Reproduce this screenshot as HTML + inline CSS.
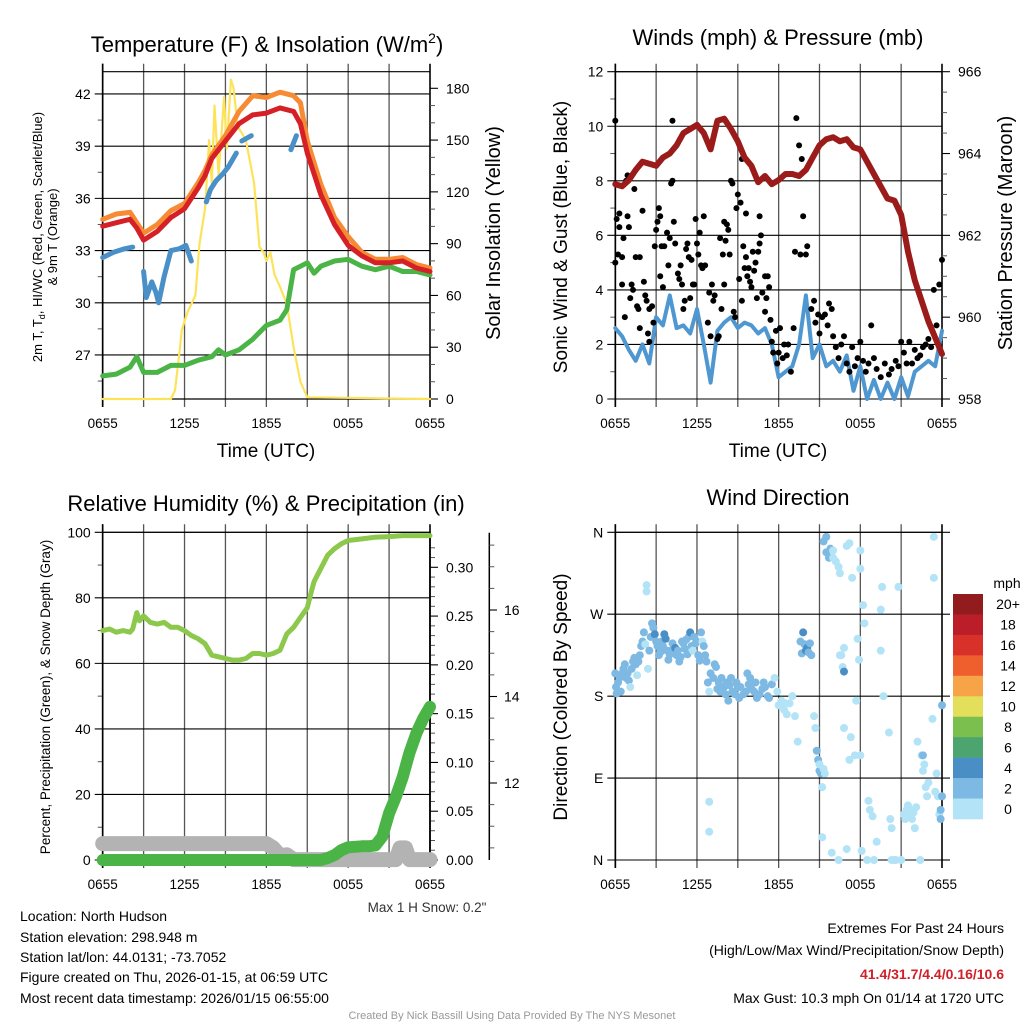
<!DOCTYPE html>
<html><head><meta charset="utf-8">
<style>
html,body{margin:0;padding:0;background:#fff;}
svg{display:block;font-family:"Liberation Sans",Arial,sans-serif;}
</style></head>
<body>
<svg id="fig" width="1024" height="1024" viewBox="0 0 1024 1024" xmlns="http://www.w3.org/2000/svg">
<rect x="0" y="0" width="1024" height="1024" fill="#fff"/>
<text x="267" y="52" font-size="22" text-anchor="middle">Temperature (F) &amp; Insolation (W/m<tspan font-size="14" dy="-9">2</tspan><tspan dy="9">)</tspan></text>
<text x="778" y="45" font-size="22" text-anchor="middle">Winds (mph) &amp; Pressure (mb)</text>
<text x="266" y="511" font-size="22" text-anchor="middle">Relative Humidity (%) &amp; Precipitation (in)</text>
<text x="778" y="505" font-size="22" text-anchor="middle">Wind Direction</text>

<text x="266" y="457" font-size="19" text-anchor="middle">Time (UTC)</text>
<text x="778" y="457" font-size="19" text-anchor="middle">Time (UTC)</text>

<text transform="translate(42,237) rotate(-90)" font-size="13" text-anchor="middle">2m T, T<tspan font-size="9" dy="3">d</tspan><tspan dy="-3">, HI/WC (Red, Green, Scarlet/Blue)</tspan></text>
<text transform="translate(57,237) rotate(-90)" font-size="13" text-anchor="middle">&amp; 9m T (Orange)</text>
<text transform="translate(500,233) rotate(-90)" font-size="20" text-anchor="middle">Solar Insolation (Yellow)</text>
<text transform="translate(567,237) rotate(-90)" font-size="19" text-anchor="middle">Sonic Wind &amp; Gust (Blue, Black)</text>
<text transform="translate(1012,233) rotate(-90)" font-size="20" text-anchor="middle">Station Pressure (Maroon)</text>
<text transform="translate(50,697) rotate(-90)" font-size="13.5" text-anchor="middle">Percent, Precipitation (Green), &amp; Snow Depth (Gray)</text>
<text transform="translate(567,697) rotate(-90)" font-size="19" text-anchor="middle">Direction (Colored By Speed)</text>

<text x="427" y="912" font-size="13.5" text-anchor="middle" fill="#333">Max 1 H Snow: 0.2"</text>

<g font-size="14">
<text x="20" y="921">Location: North Hudson</text>
<text x="20" y="942">Station elevation: 298.948 m</text>
<text x="20" y="962">Station lat/lon: 44.0131; -73.7052</text>
<text x="20" y="982">Figure created on Thu, 2026-01-15, at 06:59 UTC</text>
<text x="20" y="1003">Most recent data timestamp: 2026/01/15 06:55:00</text>
</g>
<g font-size="14" text-anchor="end">
<text x="1004" y="933">Extremes For Past 24 Hours</text>
<text x="1004" y="955">(High/Low/Max Wind/Precipitation/Snow Depth)</text>
<text x="1004" y="979" fill="#d0202a" font-weight="bold">41.4/31.7/4.4/0.16/10.6</text>
<text x="1004" y="1003">Max Gust: 10.3 mph On 01/14 at 1720 UTC</text>
</g>
<text x="512" y="1019" font-size="11" text-anchor="middle" fill="#999">Created By Nick Bassill Using Data Provided By The NYS Mesonet</text>
</svg>
<script>
// ---------- data ----------
const xTickLabels = ["0655","1255","1855","0055","0655"];
const tempTimes = [0,1,2,2.5,3,4,5,6,7,7.5,8,9,10,11,12,13,14,14.5,15,16,17,18,19,20,21,22,23,24];
const temp2m = [34.4,34.6,34.8,34.3,33.6,34.1,34.9,35.4,36.6,37.3,38.3,39.3,40.3,40.8,40.9,41.2,41.0,40.3,38.6,36.2,34.5,33.3,32.7,32.3,32.3,32.4,32.0,31.8];
const temp9m = [34.8,35.1,35.2,34.6,34.0,34.5,35.3,35.7,36.9,37.6,38.5,39.6,41.0,41.9,41.8,42.1,41.9,41.5,39.3,36.8,34.9,33.8,32.9,32.5,32.5,32.6,32.2,32.0];
const dewTimes = [0,1,2,2.5,3,4,5,6,7,8,8.5,9,10,11,12,13,13.5,14,15,15.5,16,17,18,19,20,21,22,23,24];
const dewVals = [25.8,25.9,26.3,26.9,26.0,26.0,26.4,26.4,26.7,26.9,27.3,27.0,27.3,27.9,28.7,29.0,29.6,31.9,32.3,31.7,32.1,32.4,32.5,32.1,31.9,32.1,31.8,31.8,31.6];
const wcTimes = [0,0.8,1.6,2.2,null,3.0,3.2,3.6,3.9,4.1,4.5,5.0,5.6,6.1,6.5,null,7.6,7.9,8.3,8.8,9.2,9.8,null,10.2,10.9,null,13.8,14.2];
const wcVals = [32.6,32.9,33.1,33.2,null,31.8,30.3,31.2,30.6,30.0,31.5,33.0,33.1,33.3,32.4,null,35.8,36.5,37.0,37.4,37.8,38.6,null,39.3,39.6,null,38.8,39.6];
const solarTimes = [0,5.0,5.3,5.6,5.8,6.2,6.8,7.1,7.5,7.8,8.0,8.2,8.5,8.9,9.1,9.4,9.6,9.9,10.5,11.1,11.5,11.8,12.0,12.3,12.6,13.0,13.5,14.0,14.5,15.0,24];
const solarVals = [0,0,5,25,40,50,60,90,110,150,125,170,130,175,145,185,180,158,150,125,88,85,80,85,72,65,55,30,10,1,0];

const windTimes = [0,0.5,1,1.5,2,2.5,3,3.5,4,4.5,5,5.5,6,6.5,7,7.5,8,8.5,9,9.5,10,10.5,11,11.5,12,12.5,13,13.5,14,14.5,15,15.5,16,16.5,17,17.5,18,18.5,19,19.5,20,20.5,21,21.5,22,22.5,23,23.5,24];
const windVals = [2.6,2.3,1.8,1.4,2.0,1.3,3.0,2.7,3.8,2.6,2.7,2.4,3.3,2.0,0.6,2.5,2.8,3.0,2.6,2.8,2.7,2.4,2.6,2.0,0.8,1.0,1.2,2.0,3.8,1.5,2.0,1.2,1.4,1.0,1.6,0.3,1.2,0.0,0.7,0.0,0.6,0.0,0.8,0.1,1.0,1.2,1.4,1.2,2.5];
const presVals = [963.25,963.2,963.35,963.6,963.8,963.75,963.7,963.9,964.0,964.2,964.5,964.6,964.7,964.5,964.1,964.8,964.85,964.6,964.3,963.9,963.7,963.3,963.45,963.25,963.35,963.5,963.5,963.45,963.6,963.9,964.2,964.35,964.4,964.3,964.35,964.15,964.1,963.8,963.5,963.2,962.9,962.85,962.5,961.6,960.9,960.4,959.9,959.5,959.1];
const gustTimes = [0,0,0.1,0.3,0.3,0.2,0.5,0.6,0.5,0.8,0.9,0.9,1.0,0.7,1.1,1.2,1.3,1.4,1.5,1.6,1.7,1.8,1.8,2.0,2.1,2.2,2.3,2.4,2.5,2.5,2.7,2.8,2.9,3.0,3.1,3.2,3.3,3.3,3.4,3.5,3.6,3.8,3.9,4.0,4.1,4.2,4.2,4.3,4.4,4.6,4.7,4.8,4.9,5.0,5.1,5.2,5.3,5.4,5.5,5.6,5.7,5.8,5.9,6.0,6.1,6.2,6.3,6.4,6.5,6.6,6.8,6.9,7.0,7.1,7.2,7.3,7.5,7.6,7.7,7.8,7.9,8.0,8.0,8.1,8.2,8.3,8.4,8.5,8.6,8.7,8.8,8.9,9.0,9.1,9.2,9.3,9.3,9.4,9.5,9.6,9.6,9.7,9.8,9.9,10.0,10.1,10.2,10.3,10.4,10.5,10.6,10.6,10.7,10.8,11.0,11.0,11.1,11.2,11.3,11.4,11.5,11.6,11.8,11.9,12.0,12.1,12.3,12.4,12.6,12.7,12.9,13.1,13.2,13.3,13.5,13.6,13.7,13.8,14.0,14.1,14.4,14.6,14.7,14.9,15.0,15.2,15.4,15.6,15.7,15.9,16.0,16.2,16.4,16.6,16.8,17.0,17.2,17.4,17.6,17.8,18.0,18.2,18.4,18.6,18.8,19.0,19.2,19.5,19.8,20.1,20.3,20.6,20.8,21.0,21.2,21.4,21.6,21.8,22.0,22.2,22.4,22.6,22.8,23.0,23.2,23.4,23.6,23.8,24.0];
const gustVals = [5.0,10.2,6.6,6.3,6.8,5.3,5.2,5.9,4.2,8.0,8.2,6.7,6.3,3.0,3.7,4.2,4.0,7.7,5.2,3.4,3.3,2.6,5.2,6.9,4.3,3.8,3.6,2.4,2.1,3.3,3.4,2.8,5.6,6.2,6.5,7.0,6.7,4.5,5.6,4.1,5.6,6.1,4.9,5.9,7.9,10.2,8.0,6.5,5.7,4.6,4.4,4.9,4.2,3.3,3.6,5.5,5.7,5.2,3.7,5.1,4.2,4.2,6.6,5.7,5.3,6.1,4.9,4.8,6.7,4.9,2.8,3.9,2.3,4.2,3.6,3.8,2.2,2.3,5.9,3.3,5.3,6.5,4.2,5.8,6.4,6.2,5.3,8.0,7.9,3.2,3.0,7.0,7.5,4.4,7.2,3.6,8.8,5.6,4.8,5.2,6.8,4.5,4.8,4.3,4.1,5.4,4.7,5.0,3.7,5.4,5.7,6.7,6.0,3.9,3.2,4.5,3.7,4.5,4.1,2.9,2.1,1.7,2.5,1.3,1.7,2.6,1.5,2.0,1.6,2.0,1.0,2.6,5.4,10.3,9.3,5.3,8.8,6.7,5.3,5.6,3.3,3.6,2.8,3.1,2.4,3.0,3.1,2.7,3.5,3.3,2.3,1.9,1.5,2.0,2.3,1.3,1.0,1.9,1.2,1.5,2.1,1.4,1.0,1.3,2.7,1.5,1.1,0.8,1.3,0.9,1.1,1.4,1.2,2.1,1.7,1.3,2.1,1.3,1.8,1.5,1.6,1.9,2.0,2.2,1.9,4.0,2.7,4.2,5.1];

const rhTimes = [0,0.5,1,1.5,2,2.2,2.5,2.7,3,3.5,4,4.5,5,5.5,6,6.5,7,7.5,8,8.5,9,9.5,10,10.5,11,11.5,12,12.5,13,13.5,14,14.5,15,15.3,15.5,16,16.5,17,17.5,18,19,20,21,22,23,24];
const rhVals = [70,70.5,69.5,70,69.5,70.5,75.5,73,74.5,72.5,72,72.5,71,71,70,68.5,67.5,66,62.5,62,61.5,61,61,61.5,63,63,62.5,63,64,69,71,74,77,82,85,89,93,95,96.5,97.5,98,98.5,98.7,99,99,99];
const precipTimes = [0,16,16.5,17,17.5,18,19,19.5,20,20.5,21,21.5,22,22.5,23,23.5,24];
const precipVals = [0,0,0.002,0.005,0.01,0.013,0.014,0.014,0.015,0.024,0.048,0.065,0.085,0.11,0.13,0.145,0.157];
const snowTimes = [0,12,12.5,13,13.5,14,21.5,21.8,22.2,22.5,24];
const snowVals = [10.6,10.6,10.5,10.32,10.34,10.23,10.23,10.5,10.5,10.23,10.23];

const dirTimes = [0,0.05,0.1,0.2,0.3,0.4,0.5,0.6,0.7,0.8,0.9,1.0,1.1,1.2,1.3,1.4,1.5,1.6,1.7,1.8,1.9,2.0,2.1,2.2,2.3,2.3,2.4,2.5,2.6,2.7,2.8,2.9,3.0,3.1,3.2,3.3,3.4,3.5,3.6,3.7,3.8,3.9,4.0,4.1,4.2,4.3,4.4,4.5,4.6,4.7,4.8,4.9,5.0,5.1,5.2,5.3,5.4,5.5,5.6,5.7,5.8,5.9,6.0,6.1,6.2,6.3,6.4,6.5,6.6,6.7,6.8,6.9,6.9,6.9,7.0,7.2,7.3,7.4,7.5,7.6,7.7,7.8,8.0,8.1,8.2,8.3,8.4,8.5,8.6,8.8,8.9,9.0,9.1,9.2,9.4,9.6,9.7,9.8,9.9,10.0,10.2,10.3,10.4,10.6,10.8,10.9,11.0,11.2,11.3,11.5,11.7,11.9,12.0,12.2,12.4,12.5,12.6,12.8,13.0,13.2,13.4,13.6,13.7,13.8,13.9,14.0,14.1,14.2,14.3,14.4,14.6,14.7,14.8,14.9,15.0,15.1,15.2,15.3,15.4,15.0,15.2,15.5,15.3,15.5,15.7,15.8,16.0,16.0,16.2,16.4,16.5,15.9,16.4,17.0,16.8,17.2,16.6,16.8,16.5,16.7,16.8,17.0,17.2,17.4,17.3,17.8,17.9,17.7,17.6,18.0,18.0,18.0,18.2,18.3,18.1,18.5,18.6,18.7,18.9,19.0,19.2,19.5,19.6,19.7,19.5,20.1,20.2,20.3,20.5,20.3,20.6,20.8,21.0,21.2,21.3,21.4,21.5,21.6,21.7,21.8,21.9,22.0,22.1,22.2,22.4,22.5,22.6,22.7,22.8,22.9,23.0,23.3,23.4,23.5,23.6,23.7,23.8,23.9,23.9,24,24,22.6,23.4];
const dirVals = [205,190,183,195,200,185,205,210,215,200,205,197,190,210,218,222,215,203,218,225,235,240,250,237,295,302,210,230,245,260,255,248,240,235,225,228,240,235,248,243,230,220,226,230,238,230,233,225,230,218,223,240,238,232,242,226,245,250,235,230,245,238,240,225,219,250,240,235,225,218,195,185,64,31,205,200,215,212,188,195,185,200,190,182,195,175,192,200,185,182,195,190,178,190,182,185,205,193,200,188,185,195,178,182,188,195,190,180,178,193,200,185,170,175,165,172,160,172,180,158,130,240,227,250,237,230,233,228,238,225,158,145,120,110,98,95,80,100,95,105,25,355,350,338,332,342,340,332,328,322,315,8,0,12,145,110,225,233,225,212,207,345,348,310,135,243,220,175,115,115,340,320,280,260,10,0,65,55,48,0,20,230,300,180,275,140,45,0,0,35,0,300,0,50,45,55,60,48,55,45,52,35,58,130,0,115,98,105,80,70,85,155,355,75,95,70,50,55,45,70,170,115,310];
const dirSpeeds = [2.5,2.5,2.5,2.5,2.5,2.5,2.5,2.5,2.5,2.5,2.5,2.5,1.5,2.5,2.5,2.5,2.5,1,2.5,2.5,2.5,2.5,3,1,0.5,0.5,1,2.5,2.5,2.5,2.5,4,2.5,2.5,2.5,2.5,2.5,2.5,4,4,2.5,2.5,2.5,2.5,2.5,2.5,4,2.5,2.5,2.5,2.5,2.5,2.5,2.5,2.5,2.5,2.5,4,2.5,1,2.5,2.5,2.5,2.5,2.5,2.5,1,2.5,2.5,2.5,2.5,0.5,0.5,0.5,2.5,2.5,2.5,2.5,2.5,2.5,2.5,2.5,2.5,2.5,2.5,2.5,2.5,2.5,2.5,2.5,2.5,2.5,2.5,2.5,2.5,2.5,2.5,2.5,2.5,2.5,2.5,2.5,2.5,2.5,2.5,2.5,2.5,2.5,2.5,2.5,1,0.5,0.5,0.5,0.5,0.5,0.5,0.5,0.5,0.5,0.5,2.5,2.5,4,2.5,4,4,2.5,2.5,2.5,0.5,0.5,3,2.5,2.5,2.5,0.5,0.5,0.5,0.5,0.5,2.5,2.5,2.5,2.5,2.5,1,1,0.5,0.5,0.5,0.5,0.5,0.5,0.5,0.5,1,0.5,0.5,0.5,4,0.5,0.5,0.5,0.5,0.5,0.5,0.5,0.5,0.5,0.5,0.5,0.5,0.5,0.5,0.5,0.5,0.5,0.5,0.5,0.5,0.5,0.5,0.5,0.5,0.5,0.5,0.5,0.5,0.5,0.5,0.5,0.5,0.5,0.5,0.5,0.5,0.5,0.5,0.5,0.5,0.5,0.5,0.5,0.5,0.5,0.5,0.5,0.5,0.5,0.5,0.5,0.5,0.5,0.5,0.5,0.5,2.5,3,3,2.5,2.5,0.5,0.5,0.5];
const dirLabels = ["N","E","S","W","N"];
const cbLabels = ["20+","18","16","14","12","10","8","6","4","2","0"];
const cbColors = ["#921b1e","#bb1e28","#d8312a","#ee5f2d","#f6a447","#e4df5a","#7bc04e","#4ca56f","#4a8ec6","#7db9e3","#b3e3f7"];

// ---------- helpers ----------
const NS = "http://www.w3.org/2000/svg";
const svg = document.getElementById("fig");
function mk(tag, parent, name, attrs) {
  const el = document.createElementNS(NS, tag);
  for (const k in attrs) el.setAttribute(k, attrs[k]);
  
  
  parent.appendChild(el);
  return el;
}
function linear(d0, d1, r0, r1) { return v => r0 + (v - d0) / (d1 - d0) * (r1 - r0); }

const L = {x0:102.7, x1:430}, R = {x0:615.3, x1:942};
const T = {y0:71.7, y1:399}, B = {y0:532.3, y1:860};

function frame(prefix, X, Y, hTickVals, yScale, labelFn) {
  const g = mk("g", svg, prefix + "-axes", {});
  const xs = linear(0, 24, X.x0, X.x1);
  for (let t = 0; t <= 24; t += 3) {
    const edge = (t === 0 || t === 24);
    mk("line", g, prefix + "-vgrid", {x1: xs(t), x2: xs(t), y1: Y.y0 - 8, y2: Y.y1 + 8, stroke: edge ? "#000" : "#555", "stroke-width": edge ? 1.6 : 1.3});
  }
  for (let i = 0; i < 5; i++) {
    const tx = mk("text", g, prefix + "-x-tick-label", {x: xs(i * 6), y: Y.y1 + 29, "font-size": 13.5, "text-anchor": "middle"});
    tx.textContent = xTickLabels[i];
  }
  mk("line", g, prefix + "-top-border", {x1: X.x0, x2: X.x1, y1: Y.y0, y2: Y.y0, stroke: "#000", "stroke-width": 1.2});
  hTickVals.forEach((v, i) => {
    const y = yScale(v);
    mk("line", g, prefix + "-hgrid", {x1: X.x0 - 8, x2: X.x1, y1: y, y2: y, stroke: "#000", "stroke-width": 1.1});
    const tx = mk("text", g, prefix + "-y-tick-label", {x: X.x0 - 12, y: y + 5, "font-size": 14, "text-anchor": "end"});
    tx.textContent = labelFn(v, i);
  });
  return xs;
}
function minorTicks(g, name, x, dir, vals, scale, len) {
  vals.forEach(v => { const y = scale(v); mk("line", g, name, {x1: x, x2: x + dir * len, y1: y, y2: y, stroke: "#555", "stroke-width": 1}); });
}
function rightAxis(prefix, x, vals, scale, fmt, minors) {
  const g = mk("g", svg, prefix, {});
  vals.forEach(v => {
    const y = scale(v);
    mk("line", g, prefix + "-tick", {x1: x, x2: x + 8, y1: y, y2: y, stroke: "#000", "stroke-width": 1.1});
    const tx = mk("text", g, prefix + "-tick-label", {x: x + 16, y: y + 5, "font-size": 14});
    tx.textContent = fmt(v);
  });
  minorTicks(g, prefix + "-minor-tick", x, 1, minors, scale, 5);
  return g;
}
function pathFrom(ts, vs, xs, ys) {
  let d = "", pen = false;
  for (let i = 0; i < ts.length; i++) {
    if (ts[i] === null || vs[i] === null) { pen = false; continue; }
    d += (pen ? "L" : "M") + xs(ts[i]).toFixed(1) + "," + ys(vs[i]).toFixed(1);
    pen = true;
  }
  return d;
}
function line(name, ts, vs, xs, ys, color, w) {
  return mk("path", svg, name, {d: pathFrom(ts, vs, xs, ys), fill: "none", stroke: color, "stroke-width": w, "stroke-linejoin": "round", "stroke-linecap": "round"});
}

// ---------- Panel 1 ----------
const ty = linear(24.47, 43.28, T.y1, T.y0);
const sy = linear(0, 180, T.y1, 88.3);
const xs1 = frame("temp", L, T, [27,30,33,36,39,42], ty, v => String(v));
const g1m = mk("g", svg, "temp-minor-ticks", {});
minorTicks(g1m, "temp-minor-tick", L.x0, -1, [25.5,28.5,31.5,34.5,37.5,40.5], ty, 5);
mk("line", svg, "temp-left-spine", {x1: L.x0, x2: L.x0, y1: T.y0 - 8, y2: T.y1 + 8, stroke: "#000", "stroke-width": 1.6});
mk("line", svg, "temp-bottom-border", {x1: L.x0, x2: L.x1, y1: T.y1, y2: T.y1, stroke: "#000", "stroke-width": 1.2});
rightAxis("solar-axis", L.x1, [0,30,60,90,120,150,180], sy, v => String(v), [10,20,40,50,70,80,100,110,130,140,160,170]);
line("solar-insolation-line", solarTimes, solarVals, xs1, sy, "#fde35a", 2.2);
line("dewpoint-line", dewTimes, dewVals, xs1, ty, "#4bb446", 5);
line("temp-9m-line", tempTimes, temp9m, xs1, ty, "#f68b33", 5);
line("temp-2m-line", tempTimes, temp2m, xs1, ty, "#d62028", 5);
line("windchill-line", wcTimes, wcVals, xs1, ty, "#4a90c8", 5);

// ---------- Panel 2 ----------
const wy = linear(0, 12, T.y1, T.y0);
const py = linear(958, 966, T.y1, T.y0);
const xs2 = frame("wind", R, T, [0,2,4,6,8,10,12], wy, v => String(v));
const g2m = mk("g", svg, "wind-minor-ticks", {});
minorTicks(g2m, "wind-minor-tick", R.x0, -1, [1,3,5,7,9,11], wy, 5);
mk("line", svg, "wind-left-spine", {x1: R.x0, x2: R.x0, y1: T.y0 - 8, y2: T.y1 + 8, stroke: "#000", "stroke-width": 1.6});
rightAxis("pressure-axis", R.x1, [958,960,962,964,966], py, v => String(v), [958.5,959,959.5,960.5,961,961.5,962.5,963,963.5,964.5,965,965.5]);
line("sonic-wind-line", windTimes, windVals, xs2, wy, "#4f97d1", 4);
const gg = mk("g", svg, "gust-points", {});
for (let i = 0; i < gustTimes.length; i++) {
  const c = document.createElementNS(NS, "circle");
  c.setAttribute("cx", xs2(gustTimes[i])); c.setAttribute("cy", wy(gustVals[i])); c.setAttribute("r", 3); c.setAttribute("fill", "#000");
  
  
  gg.appendChild(c);
}
line("pressure-line", windTimes, presVals, xs2, py, "#9b1b1b", 6);

// ---------- Panel 3 ----------
const hy = linear(0, 100, B.y1, B.y0);
const qy = linear(0, 0.30, B.y1, 567.3);
const ny = linear(12, 14, 783, 696.5);
const xs3 = frame("humidity", L, B, [0,20,40,60,80,100], hy, v => String(v));
const g3m = mk("g", svg, "humidity-minor-ticks", {});
minorTicks(g3m, "humidity-minor-tick", L.x0, -1, [10,30,50,70,90], hy, 5);
mk("line", svg, "humidity-left-spine", {x1: L.x0, x2: L.x0, y1: B.y0 - 8, y2: B.y1 + 8, stroke: "#000", "stroke-width": 1.6});
rightAxis("precip-axis", L.x1, [0,0.05,0.10,0.15,0.20,0.25,0.30], qy, v => v.toFixed(2), [0.01,0.02,0.03,0.04,0.06,0.07,0.08,0.09,0.11,0.12,0.13,0.14,0.16,0.17,0.18,0.19,0.21,0.22,0.23,0.24,0.26,0.27,0.28,0.29,0.31,0.32]);
mk("line", svg, "precip-axis-spine", {x1: L.x1, x2: L.x1, y1: B.y0, y2: B.y1, stroke: "#000", "stroke-width": 1.6});
const sg = mk("g", svg, "snow-axis", {});
mk("line", sg, "snow-axis-spine", {x1: 489.3, x2: 489.3, y1: 532.7, y2: 860, stroke: "#000", "stroke-width": 1.5});
[12,14,16].forEach(v => {
  mk("line", sg, "snow-axis-tick", {x1: 489.3, x2: 497, y1: ny(v), y2: ny(v), stroke: "#000", "stroke-width": 1.1});
  const tx = mk("text", sg, "snow-axis-tick-label", {x: 504, y: ny(v) + 5, "font-size": 14});
  tx.textContent = String(v);
});
minorTicks(sg, "snow-axis-minor-tick", 489.3, 1, [10.5,11,11.5,12.5,13,13.5,14.5,15,15.5,16.5,17,17.5], ny, 5);
line("snow-depth-line", snowTimes, snowVals, xs3, ny, "#b3b3b3", 15);
line("relative-humidity-line", rhTimes, rhVals, xs3, hy, "#8cc84b", 5);
line("precipitation-line", precipTimes, precipVals, xs3, qy, "#4bb446", 12);

// ---------- Panel 4 ----------
const dy = linear(0, 360, B.y1, B.y0);
const xs4 = frame("direction", R, B, [0,90,180,270,360], dy, (v, i) => dirLabels[i]);
mk("line", svg, "direction-left-spine", {x1: R.x0, x2: R.x0, y1: B.y0 - 8, y2: B.y1 + 8, stroke: "#000", "stroke-width": 1.6});
[0,90,180,270,360].forEach(v => {
  mk("line", svg, "direction-right-tick", {x1: R.x1, x2: R.x1 + 8, y1: dy(v), y2: dy(v), stroke: "#000", "stroke-width": 1.1});
});
function speedColor(s) { const idx = Math.min(10, Math.floor(s / 2)); return cbColors[10 - idx]; }
const dg = mk("g", svg, "direction-points", {});
for (let i = 0; i < dirTimes.length; i++) {
  const c = document.createElementNS(NS, "circle");
  c.setAttribute("cx", xs4(dirTimes[i])); c.setAttribute("cy", dy(dirVals[i])); c.setAttribute("r", 4); c.setAttribute("fill", speedColor(dirSpeeds[i]));
  
  
  dg.appendChild(c);
}
const cb = mk("g", svg, "speed-colorbar", {});
const cbTop = 594, cbH = (819 - 594) / 11;
for (let i = 0; i < 11; i++) {
  mk("rect", cb, "colorbar-bin", {x: 953, y: cbTop + i * cbH, width: 30, height: cbH + 0.3, fill: cbColors[i]});
  const tx = mk("text", cb, "colorbar-label", {x: 1008, y: cbTop + i * cbH + cbH / 2 + 5, "font-size": 14, "text-anchor": "middle"});
  tx.textContent = cbLabels[i];
}
const mph = mk("text", cb, "colorbar-title", {x: 1007, y: 588, "font-size": 14, "text-anchor": "middle"});
mph.textContent = "mph";
</script>
</body></html>
